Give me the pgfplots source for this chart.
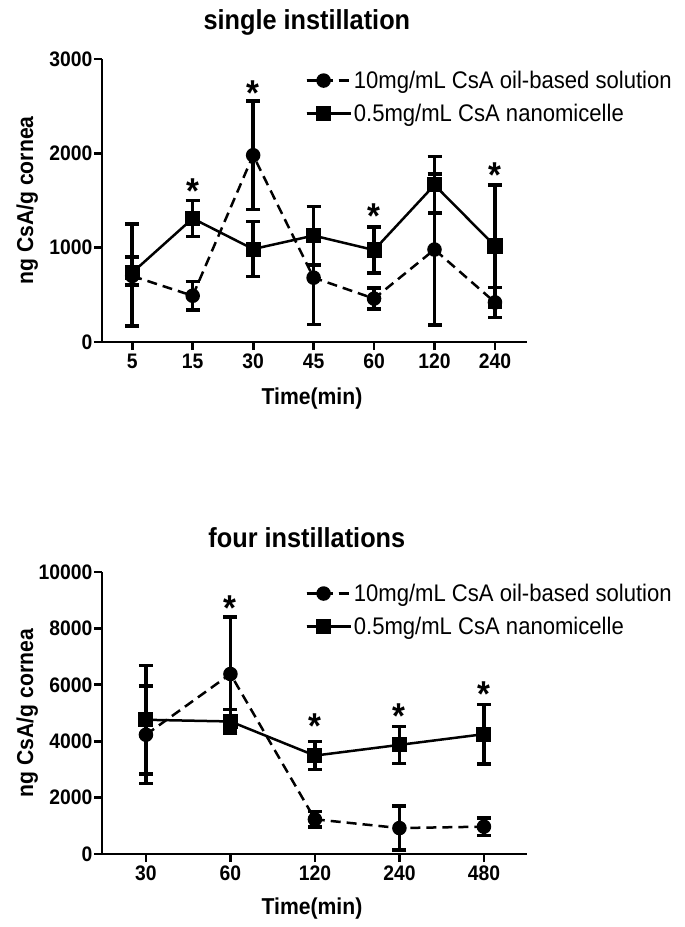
\documentclass[border=0pt]{standalone}
\usepackage{pgfplots}
\pgfplotsset{compat=1.18}
\usepackage{fontspec}
\setmainfont{Liberation Sans}[FakeStretch=0.92]
\newcommand{\tickfont}{\bfseries\fontsize{21}{21}\selectfont}
\newcommand{\labfont}{\bfseries\fontsize{23}{23}\selectfont}
\newcommand{\titfont}{\bfseries\fontsize{27.5}{27.5}\selectfont}
\newcommand{\legfont}{\fontsize{24}{26}\selectfont}
\newcommand{\astfont}{\bfseries\fontsize{36}{36}\selectfont}
\pgfplotsset{
  mystyle/.style={
    scale only axis,
    axis lines=left,
    axis line style={-, line width=2.8pt},
    tick style={line width=2.8pt, black},
    major tick length=8pt,
    tick align=outside,
    ytick pos=left, xtick pos=bottom,
    /pgf/number format/assume math mode=true,
    /pgf/number format/1000 sep={},
    ticklabel style={font=\tickfont},
    yticklabel style={inner sep=1.5pt},
    xticklabel style={text height=15pt, text depth=0pt},
    xlabel style={font=\labfont, at={(axis description cs:0.494,0)}, anchor=base},
    ylabel style={font=\labfont, at={(axis description cs:-0.176,0.5)}, anchor=center},
    title style={font=\titfont, at={(axis description cs:0.482,1)}, anchor=base},
    legend cell align=left,
    legend style={draw=none, fill=none, font=\legfont, row sep=10pt, inner sep=0pt},
    legend image code/.code={
      \draw[mark repeat=2, mark phase=2, #1] plot coordinates {(0pt,0pt) (17pt,0pt) (34pt,0pt)};
      \path (0pt,0pt) -- (44pt,0pt);
    },
    clip=false,
  },
  oil/.style={black, line width=2.5pt, dash pattern=on 10pt off 6pt, mark=*, mark size=6pt,
    mark options={solid},
    error bars/.cd, y dir=both, y explicit,
    error bar style={line width=3.5pt, solid},
    error mark options={rotate=90, mark size=7pt, line width=3.5pt, solid}},
  nano/.style={black, line width=2.5pt, solid, mark=square*, mark size=6.3pt,
    error bars/.cd, y dir=both, y explicit,
    error bar style={line width=3.5pt, solid},
    error mark options={rotate=90, mark size=7pt, line width=3.5pt, solid}},
}
\begin{document}
\begin{tikzpicture}
\useasboundingbox (0pt,0pt) rectangle (685pt,-927pt);
% ---------------- top panel
\begin{axis}[mystyle,
  at={(102pt,-342pt)}, anchor=south west,
  width=425pt, height=283pt,
  xmin=-0.5, xmax=6.53, ymin=0, ymax=3000,
  xtick={0,...,6}, xticklabels={5,15,30,45,60,120,240},
  ytick={0,1000,2000,3000},
  xlabel={Time(min)}, ylabel={ng CsA/g cornea},
  xlabel style={yshift=-62pt},
  title={single instillation}, title style={yshift=24pt},
  legend style={at={(0.478,0.965)}, anchor=north west},
]
\addplot[oil] coordinates {
  (0,700) += (0,200) -= (0,95)
  (1,490) +- (0,150)
  (2,1980) +- (0,575)
  (3,682) +- (0,495)
  (4,460) +- (0,110)
  (5,980) +- (0,800)
  (6,420) +- (0,160)
};
\addlegendentry{10mg/mL CsA oil-based solution}
\addplot[nano] coordinates {
  (0,735) += (0,515) -= (0,565)
  (1,1310) +- (0,190)
  (2,985) +- (0,290)
  (3,1128) +- (0,310)
  (4,975) +- (0,245)
  (5,1665) +- (0,300)
  (6,1018) +- (0,645)
};
\addlegendentry{0.5mg/mL CsA nanomicelle}
\node[font=\astfont, anchor=north, inner sep=0pt] at (axis cs:1,1730) {*};
\node[font=\astfont, anchor=north, inner sep=0pt] at (axis cs:2,2770) {*};
\node[font=\astfont, anchor=north, inner sep=0pt] at (axis cs:4,1465) {*};
\node[font=\astfont, anchor=north, inner sep=0pt] at (axis cs:6,1905) {*};
\end{axis}
% ---------------- bottom panel
\begin{axis}[mystyle,
  at={(102pt,-854pt)}, anchor=south west,
  width=425pt, height=282pt,
  xmin=-0.52, xmax=4.51, ymin=0, ymax=10000,
  xtick={0,...,4}, xticklabels={30,60,120,240,480},
  ytick={0,2000,4000,6000,8000,10000},
  scaled y ticks=false,
  xlabel={Time(min)}, ylabel={ng CsA/g cornea},
  xlabel style={yshift=-60pt},
  title={four instillations}, title style={yshift=19pt},
  legend style={at={(0.478,0.965)}, anchor=north west},
]
\addplot[oil] coordinates {
  (0,4230) +- (0,1730)
  (1,6383) +- (0,2020)
  (2,1230) +- (0,280)
  (3,920) +- (0,780)
  (4,970) +- (0,310)
};
\addlegendentry{10mg/mL CsA oil-based solution}
\addplot[nano] coordinates {
  (0,4760) +- (0,1920)
  (1,4700) +- (0,430)
  (2,3490) +- (0,500)
  (3,3870) +- (0,660)
  (4,4250) +- (0,1050)
};
\addlegendentry{0.5mg/mL CsA nanomicelle}
\node[font=\astfont, anchor=north, inner sep=0pt] at (axis cs:1,9180) {*};
\node[font=\astfont, anchor=north, inner sep=0pt] at (axis cs:2,4990) {*};
\node[font=\astfont, anchor=north, inner sep=0pt] at (axis cs:3,5340) {*};
\node[font=\astfont, anchor=north, inner sep=0pt] at (axis cs:4,6110) {*};
\end{axis}
\end{tikzpicture}
\end{document}
